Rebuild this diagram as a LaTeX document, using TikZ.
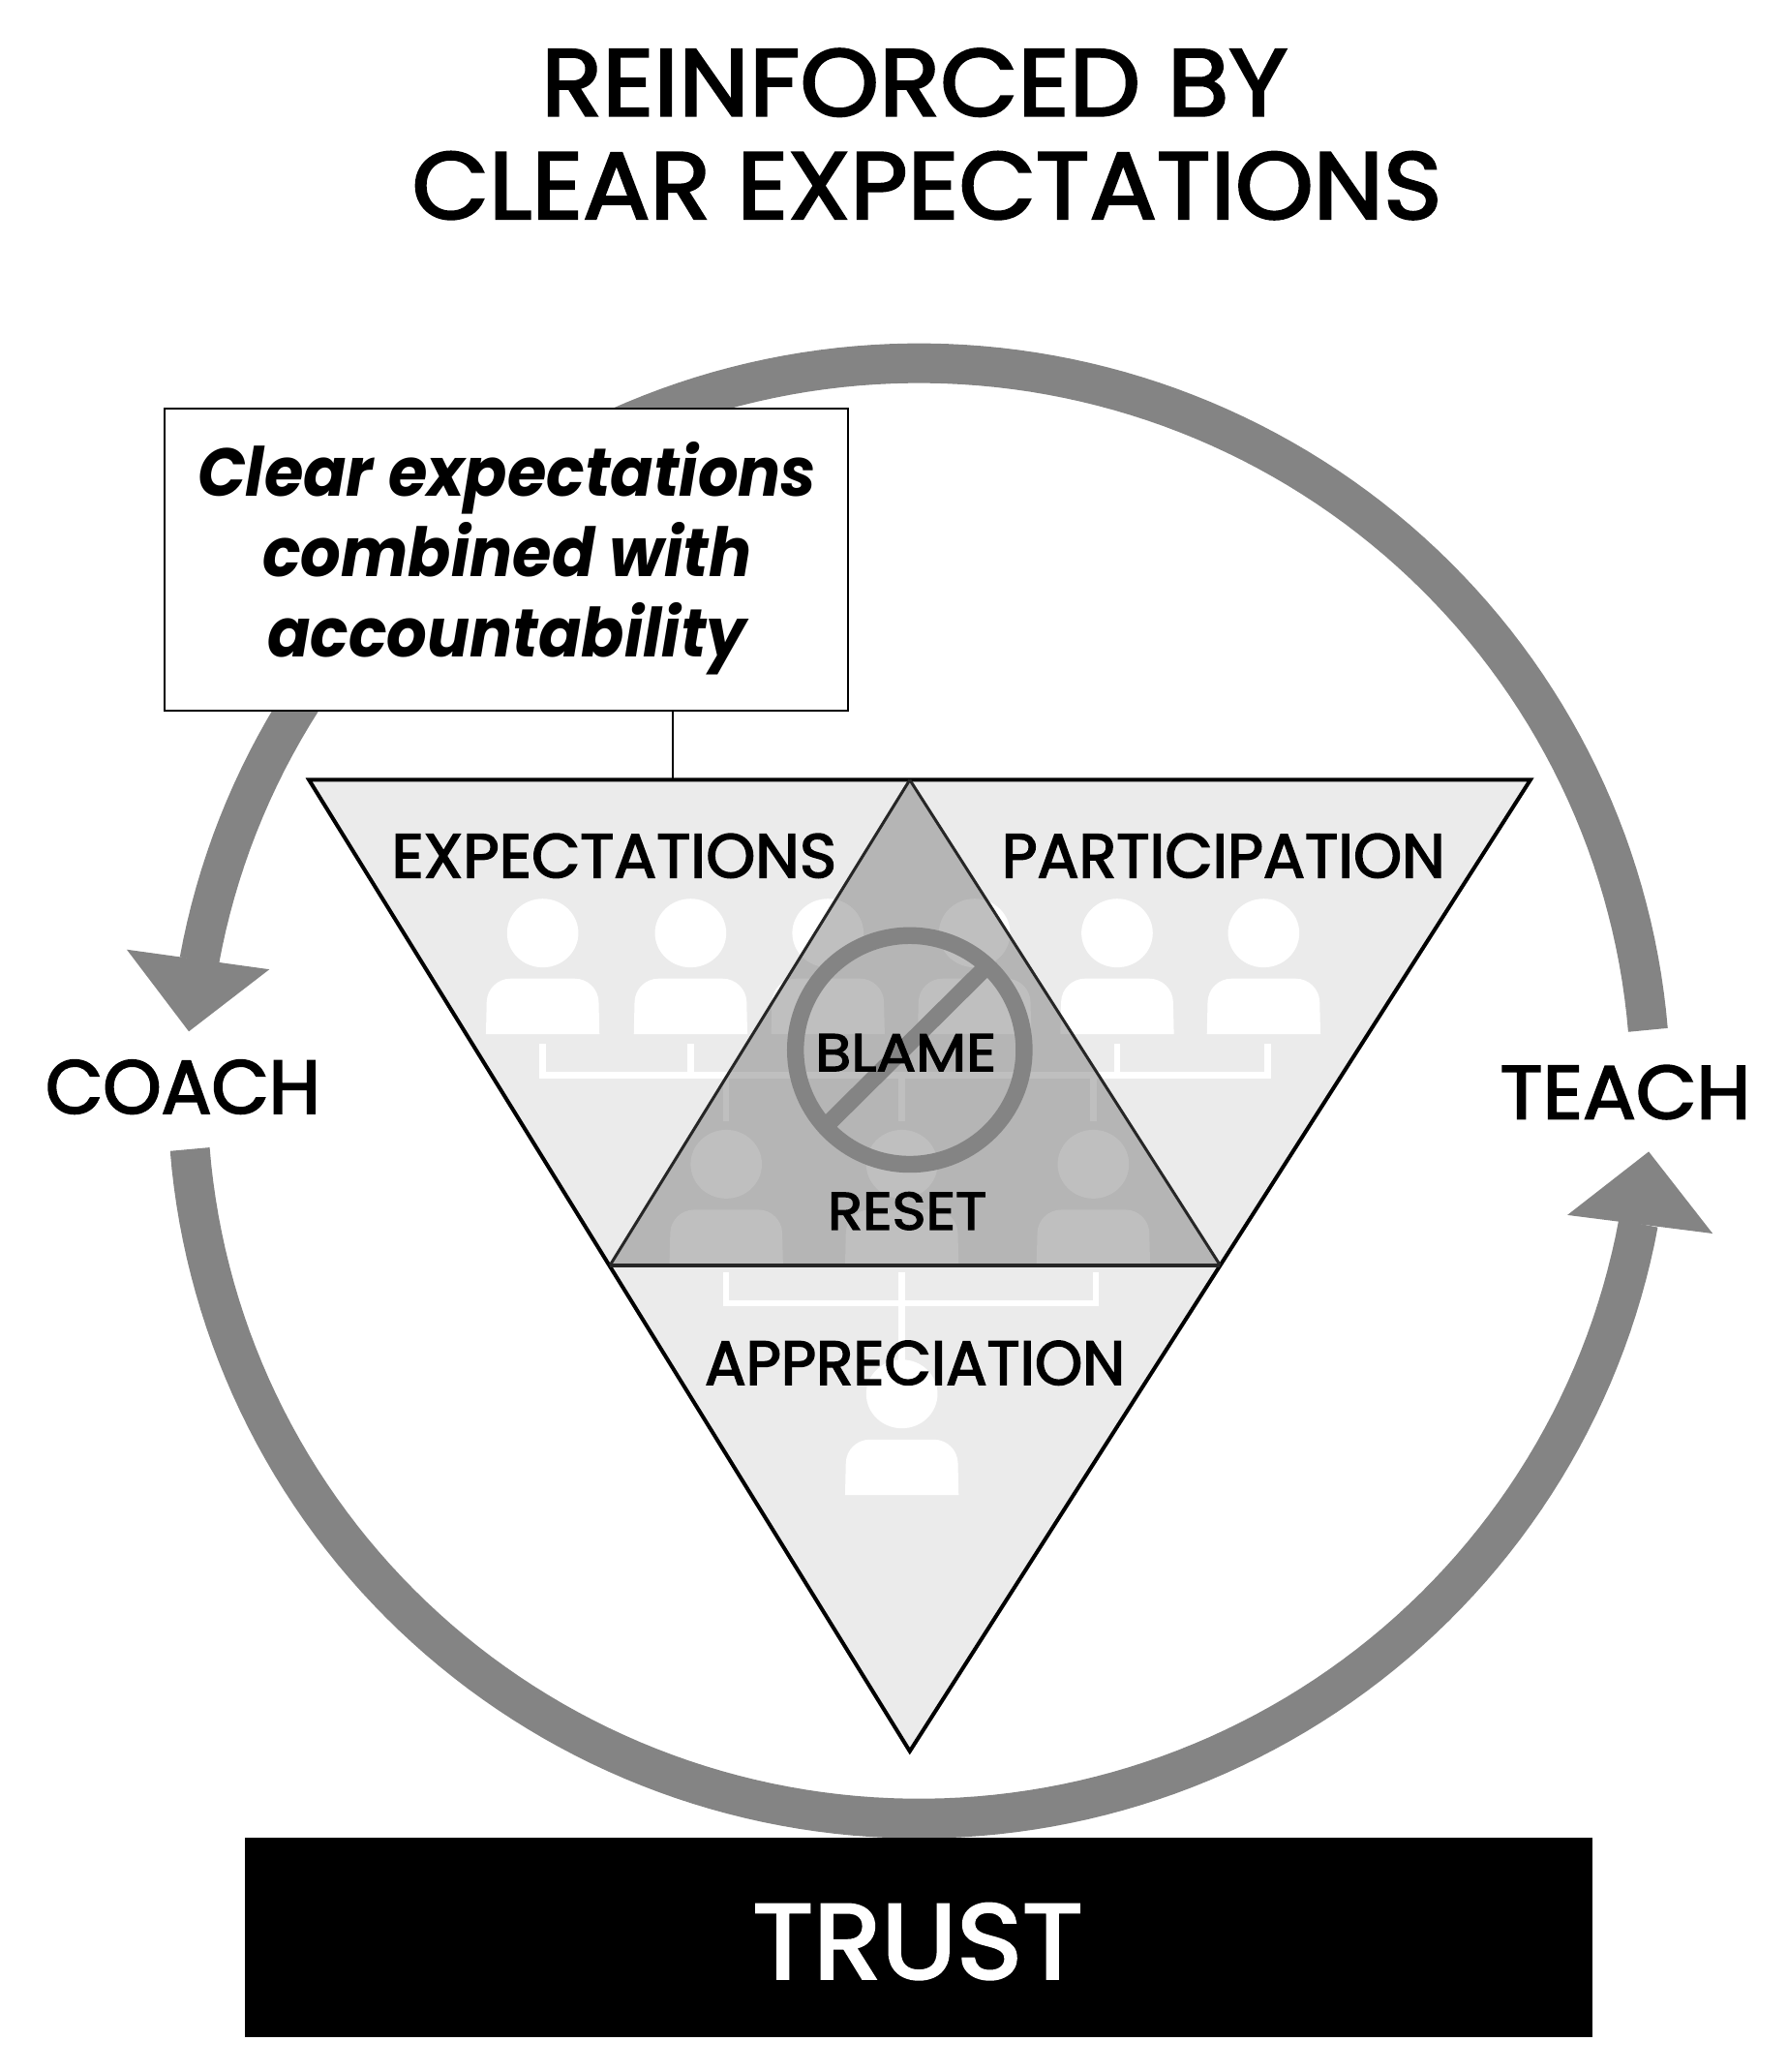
\documentclass[tikz,border=0pt]{standalone}
\usepackage{fontspec}
\setmainfont{Poppins}[Ligatures=NoCommon]
\definecolor{ringgray}{HTML}{848484}
\definecolor{lightfill}{HTML}{EBEBEB}
\definecolor{darkfill}{HTML}{B5B5B5}
\definecolor{ghost}{HTML}{BFBFBF}
\newcommand{\lblfont}[2]{\fontsize{#1}{#1}\selectfont\addfontfeatures{FakeStretch=#2,FakeBold=2.5}}
\newcommand{\personfig}[2]{%
  \fill[personcol] (#1,#2-76.5) ellipse [x radius=27,y radius=26];
  \fill[personcol] (#1-43,#2) [rounded corners=12] -- (#1-42,#2-42) -- (#1+42,#2-42) [sharp corners] -- (#1+43,#2) -- cycle;
}
\newcommand{\allpeople}{%
  \foreach \px in {411,523,627,738,846,957}{\personfig{\px}{783}}
  \foreach \px in {550,683,828}{\personfig{\px}{958}}
  \personfig{683}{1132}
  \draw[treeline] (411,790) -- (411,814) -- (960,814) -- (960,790);
  \draw[treeline] (523,790) -- (523,814);
  \draw[treeline] (846,790) -- (846,814);
  \foreach \px in {550,683,828}{\draw[treeline] (\px,814) -- (\px,849);}
  \draw[treeline] (550,963) -- (550,987) -- (830,987) -- (830,963);
  \draw[treeline] (683,963) -- (683,1040);
}
\tikzset{
  personcol/.style={white},
  bigarc/.style={draw=ringgray,line width=20.5pt},
  arrowhead/.style={fill=ringgray},
  treeline/.style={draw=white,line width=3.2pt},
  lbl/.style={inner sep=0pt,text=black},
  ringstroke/.style={draw=ringgray,line width=8.7pt},
}
\begin{document}
\begin{tikzpicture}[x=0.682pt,y=-0.682pt]
\useasboundingbox (0,0) rectangle (1353.4,1568.9);
% title
\node[lbl,font=\lblfont{49}{1.06}] (t1) at (692.5,62.5) {REINFORCED BY};
\node[lbl,font=\lblfont{49}{1.05}] (t2) at (702,140.5) {CLEAR EXPECTATIONS};
% circular arrows
\draw[bigarc] plot[domain=-4.8:-169.7,samples=120] ({696+554*cos(\x)},{826+551*sin(\x)});
\draw[bigarc] plot[domain=175.4:10.5,samples=120] ({696+554*cos(\x)},{826+551*sin(\x)});
\coordinate (hl1) at (96,719); \coordinate (hl2) at (204,734); \coordinate (hl3) at (143,781);
\coordinate (hr1) at (1187,920); \coordinate (hr2) at (1297,934); \coordinate (hr3) at (1248.6,872);
\fill[arrowhead] (hl1) -- (hl2) -- (hl3) -- cycle;
\fill[arrowhead] (hr1) -- (hr2) -- (hr3) -- cycle;
% triangles
\coordinate (A) at (234,590.5); \coordinate (B) at (689,590.5); \coordinate (C) at (1159,590.5);
\coordinate (D) at (462,958); \coordinate (E) at (924,958); \coordinate (F) at (689,1326);
\fill[lightfill] (A) -- (B) -- (D) -- cycle;
\fill[lightfill] (B) -- (C) -- (E) -- cycle;
\fill[lightfill] (D) -- (E) -- (F) -- cycle;
% people, white on the light triangles
\allpeople
% centre triangle, people showing through
\fill[darkfill] (B) -- (E) -- (D) -- cycle;
\begin{scope}
  \clip (B) -- (E) -- (D) -- cycle;
  \tikzset{personcol/.style={ghost},treeline/.style={draw=ghost,line width=3.2pt}}
  \allpeople
\end{scope}
\draw[line width=2pt,line join=miter,miter limit=20] (A) -- (C) -- (F) -- cycle;
\draw[line width=1.5pt,draw=black!85] (B) -- (D);
\draw[line width=1.5pt,draw=black!85] (B) -- (E);
\draw[line width=2pt,draw=black!85] (D) -- (E);
% no sign
\draw[ringstroke] (689,795) circle [radius=86.6];
\coordinate (s1) at (626,852); \coordinate (s2) at (746,733);
\draw[ringstroke] (s1) -- (s2);
% callout
\node[draw=black,fill=white,line width=0.8pt,minimum width=353pt,minimum height=156pt,inner sep=0pt,anchor=north west] (box) at (124,309) {};
\node[lbl,align=center,font=\fontsize{35}{41.5}\selectfont\bfseries\itshape\addfontfeatures{FakeStretch=.935}] (boxtext) at (384,423) {Clear expectations\\combined with\\accountability};
\coordinate (lead) at (509.5,590);
\draw[line width=0.8pt] (box.south -| lead) -- (lead);
% labels
\node[lbl,font=\lblfont{39}{.985}] (coach) at (138.5,823) {COACH};
\node[lbl,font=\lblfont{39}{1.04}] (teach) at (1231,827) {TEACH};
\node[lbl,font=\lblfont{32}{1.015}] (exp) at (465,648) {EXPECTATIONS};
\node[lbl,font=\lblfont{32}{.995}] (par) at (926.5,648) {PARTICIPATION};
\node[lbl,font=\lblfont{32}{.98}] (app) at (693,1032) {APPRECIATION};
\node[lbl,font=\lblfont{27.3}{1.107}] (bla) at (686,797) {BLAME};
\node[lbl,font=\lblfont{27.3}{1.09}] (res) at (687,917) {RESET};
% trust
\node[fill=black,minimum width=696pt,minimum height=103pt,inner sep=0pt,anchor=north west] (bar) at (185,1391) {};
\node[text=white,inner sep=0pt,font=\lblfont{55}{1.05}] (trust) at (695,1470) {TRUST};
\end{tikzpicture}
\end{document}
